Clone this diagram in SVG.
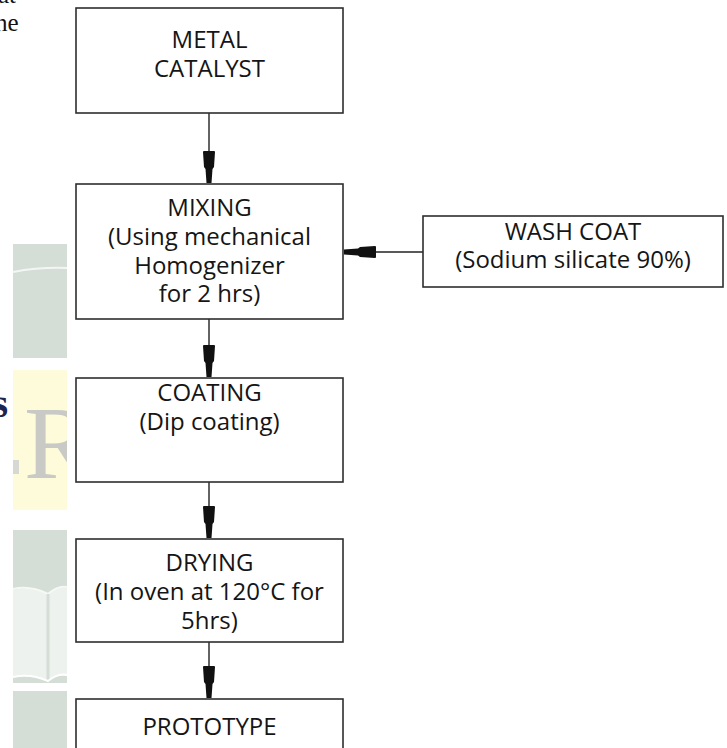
<svg xmlns="http://www.w3.org/2000/svg" width="727" height="748" viewBox="0 0 727 748">
  <style>
    .box { fill: #ffffff; stroke: #2e2e2e; stroke-width: 1.6; }
    .t { font-family: "Open Sans", "Liberation Sans", sans-serif; font-size: 24px; fill: #151515; text-anchor: middle; }
    .conn { stroke: #222222; stroke-width: 1.4; fill: none; marker-end: url(#arr); }
    .wm { fill: #d4ddd6; }
  </style>
  <defs>
    <marker id="arr" markerUnits="userSpaceOnUse" markerWidth="40" markerHeight="16" refX="0" refY="0" orient="auto" overflow="visible">
      <path d="M0,-2.5 L-14,-3.5 L-16,-5 L-31,-6 L-32,-5.5 L-32,5.5 L-31,6 L-16,5 L-14,3.5 L0,2.5 Z" fill="#111111"/>
    </marker>
    <clipPath id="strip">
      <rect x="13" y="370" width="54" height="140"/>
    </clipPath>
  </defs>

  <rect width="727" height="748" fill="#ffffff"/>

  <!-- background fragments (watermark / page remnants) -->
  <g id="background">
    <text x="-2" y="3" font-family="'Liberation Serif', serif" font-size="25" fill="#111">at</text>
    <text x="-5" y="31" font-family="'Liberation Serif', serif" font-size="25" fill="#111">he</text>
    <rect class="wm" x="13" y="244" width="54" height="114"/>
    <path d="M13,272 Q40,267 67,268" stroke="#f4f6f4" stroke-width="2" fill="none"/>
    <rect x="13" y="370" width="54" height="140" fill="#fdfbd9"/>
    <text x="8" y="417" font-family="'Liberation Serif', serif" font-weight="bold" font-size="40" fill="#1b2550" text-anchor="end">s</text>
    <g clip-path="url(#strip)">
      <text x="24" y="478" font-family="'Liberation Serif', serif" font-size="104" fill="#c9c9c6">R</text>
    </g>
    <rect x="13" y="460" width="6" height="14" fill="#d8d8d2"/>
    <rect class="wm" x="13" y="530" width="54" height="153"/>
    <path d="M13,590 Q30,586 48,594 Q58,586 67,588 L67,676 Q58,674 48,680 Q30,674 13,676 Z" fill="#eef2ee"/>
    <path d="M13,589 Q30,585 48,594 Q58,585 67,587" stroke="#f6f8f6" stroke-width="2" fill="none"/>
    <line x1="48" y1="594" x2="48" y2="680" stroke="#d4ddd6" stroke-width="3"/>
    <path d="M13,677 Q30,673 48,681 Q58,673 67,675" stroke="#ffffff" stroke-width="2" fill="none"/>
    <rect class="wm" x="13" y="691" width="54" height="57"/>
  </g>

  <g id="connectors">
    <line class="conn" x1="209" y1="113" x2="209" y2="183"/>
    <line class="conn" x1="209" y1="319" x2="209" y2="377"/>
    <line class="conn" x1="209" y1="482" x2="209" y2="538"/>
    <line class="conn" x1="209" y1="642" x2="209" y2="698"/>
    <line class="conn" x1="423" y1="252" x2="344" y2="252"/>
  </g>

  <g id="metal-catalyst">
    <rect class="box" x="76" y="8" width="267" height="105"/>
    <text class="t" x="209.5" y="48">METAL</text>
    <text class="t" x="209.5" y="77">CATALYST</text>
  </g>

  <g id="mixing">
    <rect class="box" x="76" y="184" width="267" height="135"/>
    <text class="t" x="209.5" y="216">MIXING</text>
    <text class="t" x="209.5" y="245">(Using mechanical</text>
    <text class="t" x="209.5" y="274">Homogenizer</text>
    <text class="t" x="209.5" y="302">for 2 hrs)</text>
  </g>

  <g id="wash-coat">
    <rect class="box" x="423" y="216" width="300" height="71"/>
    <text class="t" x="573" y="240">WASH COAT</text>
    <text class="t" x="573" y="268">(Sodium silicate 90%)</text>
  </g>

  <g id="coating">
    <rect class="box" x="76" y="378" width="267" height="104"/>
    <text class="t" x="209.5" y="401">COATING</text>
    <text class="t" x="209.5" y="430">(Dip coating)</text>
  </g>

  <g id="drying">
    <rect class="box" x="76" y="539" width="267" height="103"/>
    <text class="t" x="209.5" y="571">DRYING</text>
    <text class="t" x="209.5" y="600">(In oven at 120°C for</text>
    <text class="t" x="209.5" y="629">5hrs)</text>
  </g>

  <g id="prototype">
    <rect class="box" x="76" y="699" width="267" height="60"/>
    <text class="t" x="209.5" y="735">PROTOTYPE</text>
  </g>
</svg>
